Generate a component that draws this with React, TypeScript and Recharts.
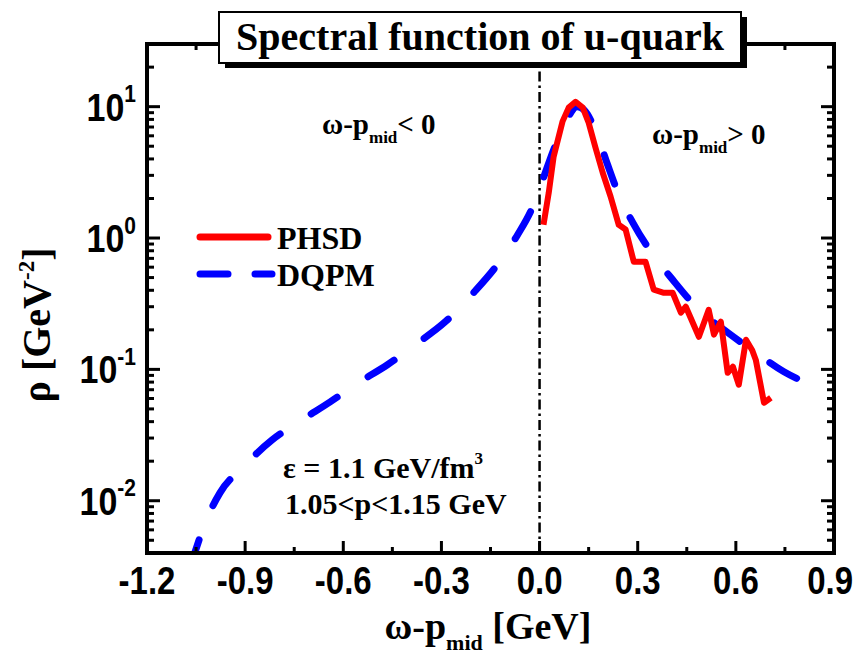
import React from 'react';
import { LineChart, Line, XAxis, YAxis, ReferenceLine } from 'recharts';

// ---- data ----
const phsdX = [0.012, 0.028, 0.043, 0.070, 0.089, 0.110, 0.132, 0.150, 0.171, 0.193, 0.217, 0.242, 0.263, 0.288, 0.324, 0.349, 0.380, 0.407, 0.432, 0.447, 0.487, 0.517, 0.533, 0.554, 0.575, 0.591, 0.609, 0.631, 0.650, 0.661, 0.686, 0.707];
const phsdY = [1.26, 2.21, 4.16, 7.69, 9.83, 10.9, 9.83, 7.55, 4.87, 3.14, 2.07, 1.26, 1.16, 0.659, 0.659, 0.404, 0.383, 0.383, 0.270, 0.300, 0.177, 0.284, 0.184, 0.231, 0.0942, 0.1047, 0.0764, 0.168, 0.140, 0.118, 0.0557, 0.0608];

const dqpmX = [-1.07, -1.053, -1.022, -0.977, -0.906, -0.817, -0.726, -0.640, -0.554, -0.465, -0.380, -0.288, -0.202, -0.129, -0.067, -0.021, 0.012, 0.043, 0.080, 0.115, 0.135, 0.178, 0.208, 0.242, 0.285, 0.340, 0.407, 0.487, 0.576, 0.661, 0.747, 0.850];
const dqpmY = [0.0030, 0.00408, 0.00679, 0.01148, 0.01811, 0.0291, 0.0413, 0.0566, 0.0791, 0.1084, 0.154, 0.2306, 0.383, 0.627, 1.06, 1.73, 2.88, 4.70, 7.69, 10.0, 9.5, 5.92, 3.61, 2.14, 1.31, 0.787, 0.481, 0.284, 0.190, 0.134, 0.096, 0.073];

const xMajorTicks = [-1.2, -0.9, -0.6, -0.3, 0, 0.3, 0.6, 0.9];
const xMinorTicks = [-1.05, -0.75, -0.45, -0.15, 0.15, 0.45, 0.75];
const yMajorTicks = [0.01, 0.1, 1, 10];
const yMajorExp = ['-2', '-1', '0', '1'];
const yMinorTicks = [0.005, 0.006, 0.007, 0.008, 0.009, 0.02, 0.03, 0.04, 0.05, 0.06, 0.07, 0.08, 0.09, 0.2, 0.3, 0.4, 0.5, 0.6, 0.7, 0.8, 0.9, 2, 3, 4, 5, 6, 7, 8, 9, 20];

const phsd = phsdX.map((x, i) => ({ x, y: phsdY[i] }));
const dqpm = dqpmX.map((x, i) => ({ x, y: dqpmY[i] }));

// ---- layout ----
const W = 856;
const H = 655;
const PL = 147, PR = 834, PT = 44, PB = 553;
const SERIF = '"Liberation Serif", "Times New Roman", serif';
const SANS = '"Liberation Sans", Arial, sans-serif';

const isMajorX = (v: number) => xMajorTicks.some((t) => Math.abs(t - v) < 1e-6);

const XTick = (props: any) => {
  const { x, payload } = props;
  const v = payload.value;
  const major = isMajorX(v);
  const len = major ? 12 : 6;
  const lx = x > W - 40 ? W - 3 : x;
  const anchor = x > W - 40 ? 'end' : 'middle';
  return (
    <g>
      <line x1={x} y1={PB} x2={x} y2={PB - len} stroke="#000" strokeWidth={3} />
      <line x1={x} y1={PT} x2={x} y2={PT + len} stroke="#000" strokeWidth={3} />
      {major && (
        <g transform={`translate(${lx}, ${PB + 41}) scale(1, 1.15)`}>
          <text x={0} y={0} textAnchor={anchor} fontFamily={SANS} fontWeight="bold" fontSize={33} fill="#000">
            {v.toFixed(1)}
          </text>
        </g>
      )}
    </g>
  );
};

const YTick = (props: any) => {
  const { y, payload } = props;
  const v = payload.value;
  const idx = yMajorTicks.findIndex((t) => Math.abs(t - v) / t < 1e-6);
  const major = idx >= 0;
  const len = major ? 13 : 7;
  return (
    <g>
      <line x1={PL} y1={y} x2={PL + len} y2={y} stroke="#000" strokeWidth={3} />
      <line x1={PR} y1={y} x2={PR - len} y2={y} stroke="#000" strokeWidth={3} />
      {major && (
        <g transform={`translate(136, ${y + 14}) scale(1, 1.15)`}>
          <text x={0} y={0} textAnchor="end" fontFamily={SANS} fontWeight="bold" fontSize={34} fill="#000">
            10
            <tspan fontSize={21} dy={-16}>{yMajorExp[idx]}</tspan>
          </text>
        </g>
      )}
    </g>
  );
};

export default function App() {
  return (
    <div style={{ position: 'absolute', left: 0, top: 0, width: W, height: H, background: '#fff' }}>
      <LineChart width={W} height={H} margin={{ top: 44, right: 22, bottom: 42, left: 67 }}>
        <XAxis
          dataKey="x"
          type="number"
          domain={[-1.2, 0.9]}
          ticks={[...xMajorTicks, ...xMinorTicks]}
          interval={0}
          allowDataOverflow
          axisLine={false}
          tickLine={false}
          tickSize={0}
          tickMargin={0}
          height={60}
          tick={<XTick />}
        />
        <YAxis
          dataKey="y"
          type="number"
          scale="log"
          domain={[0.004, 30]}
          ticks={[...yMajorTicks, ...yMinorTicks]}
          interval={0}
          allowDataOverflow
          axisLine={false}
          tickLine={false}
          tickSize={0}
          tickMargin={0}
          width={80}
          tick={<YTick />}
        />
        <ReferenceLine x={0} stroke="#000" strokeWidth={2.5} strokeDasharray="10 4 2.5 4" />
        <Line
          data={dqpm}
          dataKey="y"
          type="monotone"
          stroke="#0000ff"
          strokeWidth={7}
          strokeDasharray="31 37"
          strokeLinecap="round"
          dot={false}
          isAnimationActive={false}
        />
        <Line
          data={phsd}
          dataKey="y"
          type="linear"
          stroke="#ff0000"
          strokeWidth={6}
          strokeLinejoin="round"
          dot={false}
          isAnimationActive={false}
        />
      </LineChart>
      <svg width={W} height={H} style={{ position: 'absolute', left: 0, top: 0, pointerEvents: 'none' }}>
        <rect x={PL} y={PT} width={PR - PL} height={PB - PT} fill="none" stroke="#000" strokeWidth={4} />
        {/* title box */}
        <rect x={225} y={17} width={522} height={51} fill="#000" />
        <rect x={219} y={12} width={522} height={51} fill="#fff" stroke="#000" strokeWidth={2} />
        <text x={480} y={50} textAnchor="middle" fontFamily={SERIF} fontWeight="bold" fontSize={40} fill="#000">
          Spectral function of u-quark
        </text>
        {/* region labels */}
        <text x={322} y={134} fontFamily={SERIF} fontWeight="bold" fontSize={29} fill="#000">
          ω-p<tspan fontSize={17} dy={9}>mid</tspan><tspan dy={-9}>{'< 0'}</tspan>
        </text>
        <text x={652} y={144} fontFamily={SERIF} fontWeight="bold" fontSize={29} fill="#000">
          ω-p<tspan fontSize={17} dy={9}>mid</tspan><tspan dy={-9}>{'> 0'}</tspan>
        </text>
        {/* legend */}
        <line x1={200} y1={237} x2={268} y2={237} stroke="#ff0000" strokeWidth={7} strokeLinecap="round" />
        <text x={277} y={249} fontFamily={SERIF} fontWeight="bold" fontSize={32} fill="#000">PHSD</text>
        <line x1={200} y1={274} x2={272} y2={274} stroke="#0000ff" strokeWidth={7} strokeLinecap="round" strokeDasharray="28 27" />
        <text x={277} y={286} fontFamily={SERIF} fontWeight="bold" fontSize={32} fill="#000">DQPM</text>
        {/* annotations */}
        <text x={283} y={478} fontFamily={SERIF} fontWeight="bold" fontSize={30} fill="#000">
          ε = 1.1 GeV/fm<tspan fontSize={17} dy={-14}>3</tspan>
        </text>
        <text x={285} y={514} fontFamily={SERIF} fontWeight="bold" fontSize={30} fill="#000">
          {'1.05<p<1.15 GeV'}
        </text>
        {/* axis titles */}
        <text x={488} y={639} textAnchor="middle" fontFamily={SERIF} fontWeight="bold" fontSize={38} fill="#000">
          ω-p<tspan fontSize={22} dy={11}>mid</tspan><tspan dy={-11}> [GeV]</tspan>
        </text>
        <text x={50} y={325} transform="rotate(-90, 50, 325)" textAnchor="middle" fontFamily={SERIF} fontWeight="bold" fontSize={40} fill="#000">
          ρ [GeV<tspan fontSize={23} dy={-16}>-2</tspan><tspan dy={16}>]</tspan>
        </text>
      </svg>
    </div>
  );
}
